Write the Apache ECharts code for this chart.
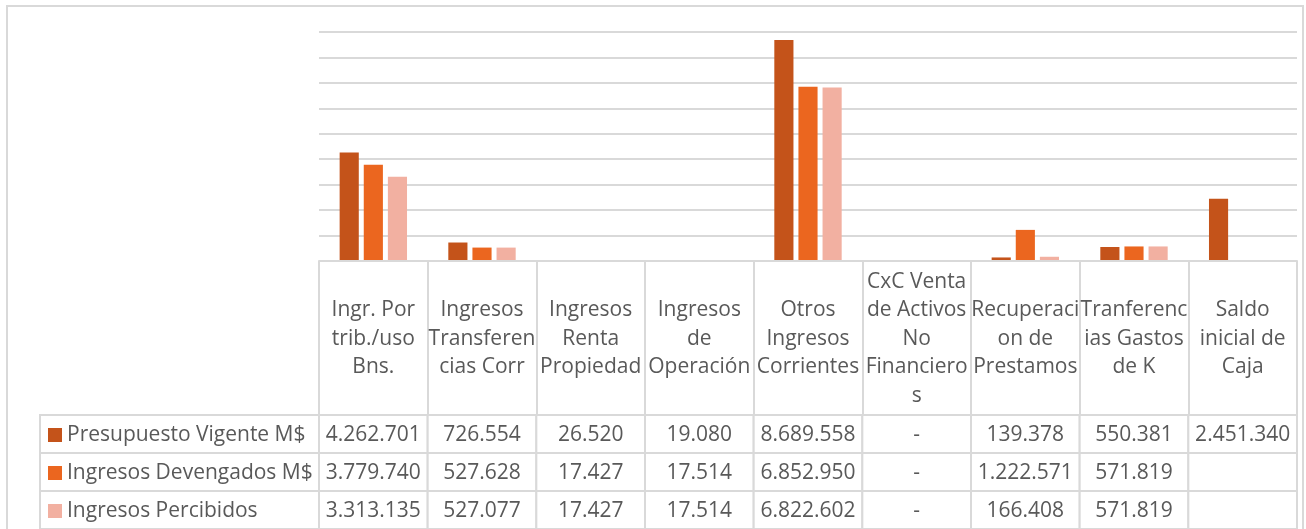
<!DOCTYPE html>
<html>
<head>
<meta charset="utf-8">
<script src="https://cdn.jsdelivr.net/npm/echarts@6/dist/echarts.min.js"></script>
<style>
html,body{margin:0;padding:0;background:#fff;}
#chart{width:1306px;height:529px;}
</style>
</head>
<body>
<div id="chart"></div>
<script>
const categories = [
  'Ingr. Por\ntrib./uso\nBns.',
  'Ingresos\nTransferen\ncias Corr',
  'Ingresos\nRenta\nPropiedad',
  'Ingresos\nde\nOperación',
  'Otros\nIngresos\nCorrientes',
  'CxC Venta\nde Activos\nNo\nFinanciero\ns',
  'Recuperaci\non de\nPrestamos',
  'Tranferenc\nias Gastos\nde K',
  'Saldo\ninicial de\nCaja'
];
const seriesNames = ['Presupuesto Vigente M$', 'Ingresos Devengados M$', 'Ingresos Percibidos'];
const presupuestoVigente = [4262701, 726554, 26520, 19080, 8689558, 0, 139378, 550381, 2451340];
const ingresosDevengados = [3779740, 527628, 17427, 17514, 6852950, 0, 1222571, 571819, null];
const ingresosPercibidos = [3313135, 527077, 17427, 17514, 6822602, 0, 166408, 571819, null];
const colors = ['#C4531A', '#EB661F', '#F2B0A1'];

const allSeries = [presupuestoVigente, ingresosDevengados, ingresosPercibidos];
const FONT = '21px "Open Sans"';
const TXT = '#595959';
const LINE = '#d9d9d9';

function fmt(v) {
  if (v === null || v === undefined) return '';
  if (v === 0) return '-';
  return String(Math.round(v)).replace(/\B(?=(\d{3})+(?!\d))/g, '.');
}

// table data
const tableData = [];
const tableText = [];
allSeries.forEach((arr, r) => {
  arr.forEach((v, c) => {
    tableData.push([c, r]);
    tableText.push(fmt(v));
  });
});
const legendData = seriesNames.map((n, r) => [0, r]);

const chart = echarts.init(document.getElementById('chart'), null, {renderer: 'canvas'});

const option = {
  animation: false,
  backgroundColor: '#fff',
  graphic: [{
    type: 'rect', z: -10,
    shape: {x: 7, y: 6, width: 1296, height: 540},
    style: {fill: 'none', stroke: LINE, lineWidth: 2}
  }],
  grid: [
    {left: 319, right: 9, top: 32, height: 229},
    {left: 40, width: 279, top: 415, height: 115},
    {left: 319, right: 9, top: 415, height: 115}
  ],
  xAxis: [
    {
      gridIndex: 0, type: 'category', data: categories, z: 5,
      axisLine: {show: true, lineStyle: {color: LINE, width: 2}},
      axisTick: {show: true, interval: 0, length: 154, lineStyle: {color: LINE, width: 2}},
      axisLabel: {
        interval: 0, margin: 78, verticalAlign: 'middle',
        fontFamily: 'Open Sans', fontSize: 21, lineHeight: 28.5, color: TXT
      }
    },
    {gridIndex: 1, type: 'category', data: ['leg'], show: false},
    {gridIndex: 2, type: 'category', data: categories, show: false}
  ],
  yAxis: [
    {
      gridIndex: 0, type: 'value', min: 0, max: 9000000, interval: 1000000,
      axisLabel: {show: false}, axisLine: {show: false}, axisTick: {show: false},
      splitLine: {show: true, lineStyle: {color: LINE, width: 2}}
    },
    {gridIndex: 1, type: 'category', data: seriesNames, inverse: true, show: false},
    {gridIndex: 2, type: 'category', data: seriesNames, inverse: true, show: false}
  ],
  series: [
    ...allSeries.map((arr, i) => ({
      type: 'bar', name: seriesNames[i], data: arr,
      xAxisIndex: 0, yAxisIndex: 0,
      barCategoryGap: '38%', barGap: '26%',
      itemStyle: {color: colors[i]}
    })),
    {
      type: 'custom', xAxisIndex: 2, yAxisIndex: 2, data: tableData,
      encode: {x: 0, y: 1},
      renderItem: function (params, api) {
        const c = api.coord([api.value(0), api.value(1)]);
        const s = api.size([1, 1]);
        return {
          type: 'group', children: [
            {type: 'rect', shape: {x: c[0] - s[0] / 2, y: c[1] - s[1] / 2, width: s[0], height: s[1]},
             style: {fill: '#fff', stroke: LINE, lineWidth: 2}},
            {type: 'text', x: c[0], y: c[1] + 1,
             style: {text: tableText[params.dataIndex], fill: TXT, font: FONT, align: 'center', verticalAlign: 'middle'}}
          ]
        };
      }
    },
    {
      type: 'custom', xAxisIndex: 1, yAxisIndex: 1, data: legendData,
      encode: {x: 0, y: 1},
      renderItem: function (params, api) {
        const c = api.coord([api.value(0), api.value(1)]);
        const s = api.size([1, 1]);
        const left = c[0] - s[0] / 2;
        const r = params.dataIndex;
        return {
          type: 'group', children: [
            {type: 'rect', shape: {x: left, y: c[1] - s[1] / 2, width: s[0], height: s[1]},
             style: {fill: '#fff', stroke: LINE, lineWidth: 2}},
            {type: 'rect', shape: {x: left + 8, y: c[1] - 6, width: 14, height: 14},
             style: {fill: colors[r]}},
            {type: 'text', x: left + 27, y: c[1] + 1,
             style: {text: seriesNames[r], fill: TXT, font: FONT, align: 'left', verticalAlign: 'middle'}}
          ]
        };
      }
    }
  ]
};
chart.setOption(option);
</script>
</body>
</html>
